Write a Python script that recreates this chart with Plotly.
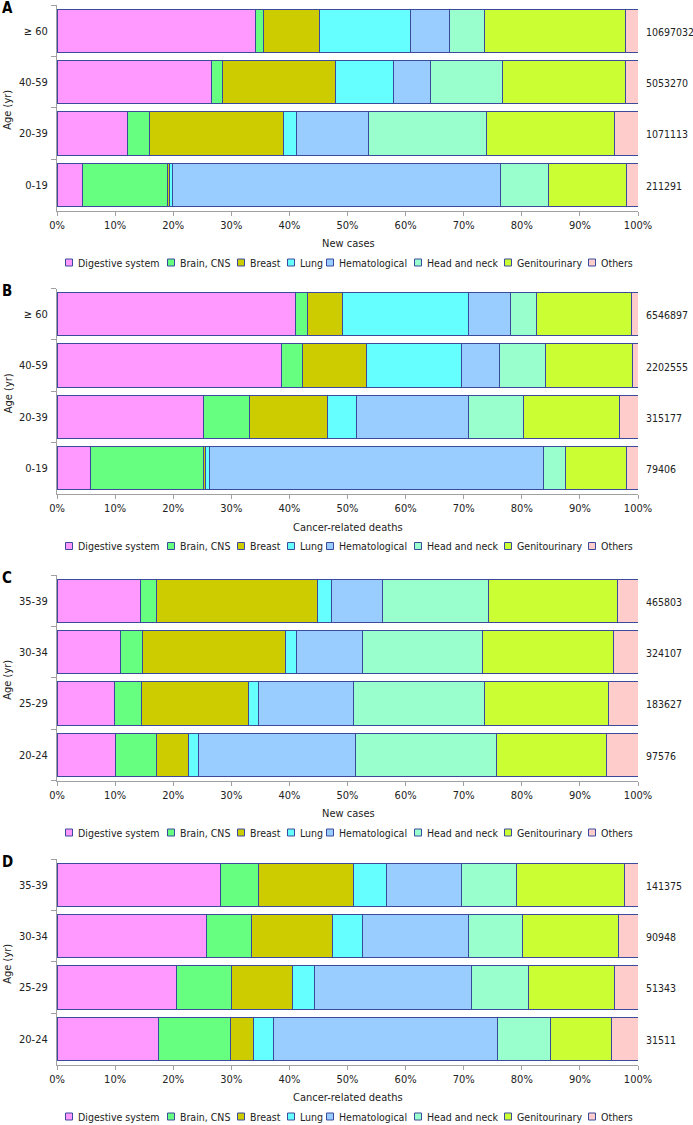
import plotly.graph_objects as go

# ---------------- data ----------------
sites = ["Digestive system", "Brain, CNS", "Breast", "Lung", "Hematological",
         "Head and neck", "Genitourinary", "Others"]
site_colors = ["#FF99FF", "#66FF80", "#CCCC00", "#66FFFF", "#99CCFF",
               "#99FFCC", "#CCFF33", "#FFCCCC"]

ages_all = ["0-19", "20-39", "40-59", "≥ 60"]
ages_young = ["20-24", "25-29", "30-34", "35-39"]

# share (%) per site (rows follow `sites`), columns follow the age list
share_A = [[4.4, 12.2, 26.6, 34.2], [14.6, 3.7, 1.9, 1.3], [0.3, 23.1, 19.5, 9.6],
           [0.6, 2.2, 9.9, 15.7], [56.4, 12.4, 6.3, 6.7], [8.3, 20.3, 12.5, 6.1],
           [13.4, 22.0, 21.2, 24.2], [2.0, 4.1, 2.1, 2.2]]
share_B = [[5.8, 25.2, 38.6, 41.0], [19.4, 7.9, 3.7, 2.1], [0.4, 13.4, 10.9, 6.0],
           [0.6, 5.0, 16.4, 21.8], [57.5, 19.4, 6.6, 7.1], [3.9, 9.4, 7.9, 4.6],
           [10.5, 16.6, 15.0, 16.3], [1.9, 3.1, 0.9, 1.1]]
share_C = [[10.1, 9.9, 11.0, 14.3], [7.0, 4.7, 3.7, 2.9], [5.5, 18.4, 24.6, 27.6],
           [1.8, 1.7, 1.9, 2.4], [26.9, 16.3, 11.3, 8.8], [24.3, 22.5, 20.7, 18.2],
           [18.9, 21.4, 22.6, 22.2], [5.5, 5.1, 4.2, 3.6]]
share_D = [[17.5, 20.6, 25.7, 28.2], [12.3, 9.5, 7.8, 6.5], [4.1, 10.4, 14.0, 16.4],
           [3.3, 3.9, 5.0, 5.6], [38.7, 27.0, 18.3, 12.9], [9.0, 9.7, 9.4, 9.5],
           [10.6, 14.8, 16.5, 18.5], [4.5, 4.1, 3.3, 2.4]]

totals_A = [211291, 1071113, 5053270, 10697032]
totals_B = [79406, 315177, 2202555, 6546897]
totals_C = [97576, 183627, 324107, 465803]
totals_D = [31511, 51343, 90948, 141375]

panel_letters = ["A", "B", "C", "D"]
x_titles = ["New cases", "Cancer-related deaths", "New cases", "Cancer-related deaths"]
x_ticks = list(range(0, 101, 10))
x_tick_labels = [f"{v}%" for v in x_ticks]

# ---------------- layout geometry (pixels) ----------------
W, H = 693, 1125
FONT = "DejaVu Sans Condensed, Liberation Sans, Arial, sans-serif"
TXT = "#222222"
AXC = "#A0A0A0"
EDGE = "#3A4A9C"
x_left, x_right = 57, 638
panel_tops = [5, 288.5, 575, 859]
panel_h = 205.5
legend_sq_x = [69, 171, 241, 291, 330, 418, 508, 592]


def px(x):
    return x / W


def py(y):
    return 1 - y / H


panels = [
    (share_A, totals_A, ages_all),
    (share_B, totals_B, ages_all),
    (share_C, totals_C, ages_young),
    (share_D, totals_D, ages_young),
]

fig = go.Figure()
annotations = []
shapes = []

for p, (share, totals, ages) in enumerate(panels):
    sfx = "" if p == 0 else str(p + 1)
    xa, ya = "x" + sfx, "y" + sfx
    for s, name in enumerate(sites):
        fig.add_trace(go.Bar(
            x=share[s], y=ages, orientation="h", name=name,
            xaxis=xa, yaxis=ya, showlegend=False,
            marker=dict(color=site_colors[s], line=dict(color=EDGE, width=1)),
            hovertemplate=name + " %{y}: %{x:.1f}%<extra></extra>",
        ))
    top = panel_tops[p]
    bot = top + panel_h
    fig.layout["xaxis" + sfx] = dict(
        domain=[px(x_left), px(x_right)], anchor=ya, range=[0, 100],
        tickmode="array", tickvals=x_ticks, ticktext=x_tick_labels,
        ticks="outside", ticklen=4, automargin=False,
        tickcolor=AXC, showline=True, linecolor=AXC, linewidth=1,
        showgrid=False, zeroline=False, fixedrange=True,
        tickfont=dict(family=FONT, size=11, color=TXT),
    )
    fig.layout["yaxis" + sfx] = dict(
        domain=[py(bot), py(top)], anchor=xa, type="category",
        categoryorder="array", categoryarray=ages,
        tickson="boundaries", ticks="outside", ticklen=5, tickcolor=AXC,
        ticklabelstandoff=6, automargin=False,
        showline=True, linecolor=AXC, linewidth=1, showgrid=False,
        zeroline=False, fixedrange=True,
        tickfont=dict(family=FONT, size=11, color=TXT),
    )
    # totals on the right
    for age, tot in zip(ages, totals):
        annotations.append(dict(
            x=px(644), xref="paper", y=age, yref=ya, text=str(tot),
            showarrow=False, xanchor="left", yanchor="middle", yshift=-1,
            font=dict(family=FONT, size=10.5, color=TXT)))
    # panel letter
    annotations.append(dict(
        x=0, xref="paper", y=py(top + 3), yref="paper", text="<b>%s</b>" % panel_letters[p],
        showarrow=False, xanchor="left", yanchor="middle",
        font=dict(family=FONT, size=15, color="#000000")))
    # y title
    annotations.append(dict(
        x=px(8), xref="paper", y=py(top + panel_h / 2 + 2), yref="paper", text="Age (yr)",
        showarrow=False, textangle=-90, xanchor="center", yanchor="middle",
        font=dict(family=FONT, size=11, color=TXT)))
    # x title
    annotations.append(dict(
        x=px(348), xref="paper", y=py(bot + 33), yref="paper", text=x_titles[p],
        showarrow=False, xanchor="center", yanchor="middle",
        font=dict(family=FONT, size=11, color=TXT)))
    # legend row
    ly = bot + 52
    for s, name in enumerate(sites):
        cx = legend_sq_x[s]
        shapes.append(dict(
            type="rect", xref="paper", yref="paper",
            x0=px(cx - 3.5), x1=px(cx + 3.5), y0=py(ly + 3.5), y1=py(ly - 3.5),
            fillcolor=site_colors[s], line=dict(color=EDGE, width=1)))
        annotations.append(dict(
            x=px(cx + 7), xref="paper", y=py(ly), yref="paper", text=name,
            showarrow=False, xanchor="left", yanchor="middle",
            font=dict(family=FONT, size=10.5, color=TXT)))

fig.update_layout(
    width=W, height=H, margin=dict(l=0, r=0, t=0, b=0, pad=0, autoexpand=False),
    barmode="stack", bargap=0.158,
    plot_bgcolor="white", paper_bgcolor="white",
    annotations=annotations, shapes=shapes,
    font=dict(family=FONT, size=11, color=TXT),
)

fig.write_html("out.html", config=dict(displayModeBar=False),
               post_script="document.body.style.margin='0';document.body.style.padding='0';")
